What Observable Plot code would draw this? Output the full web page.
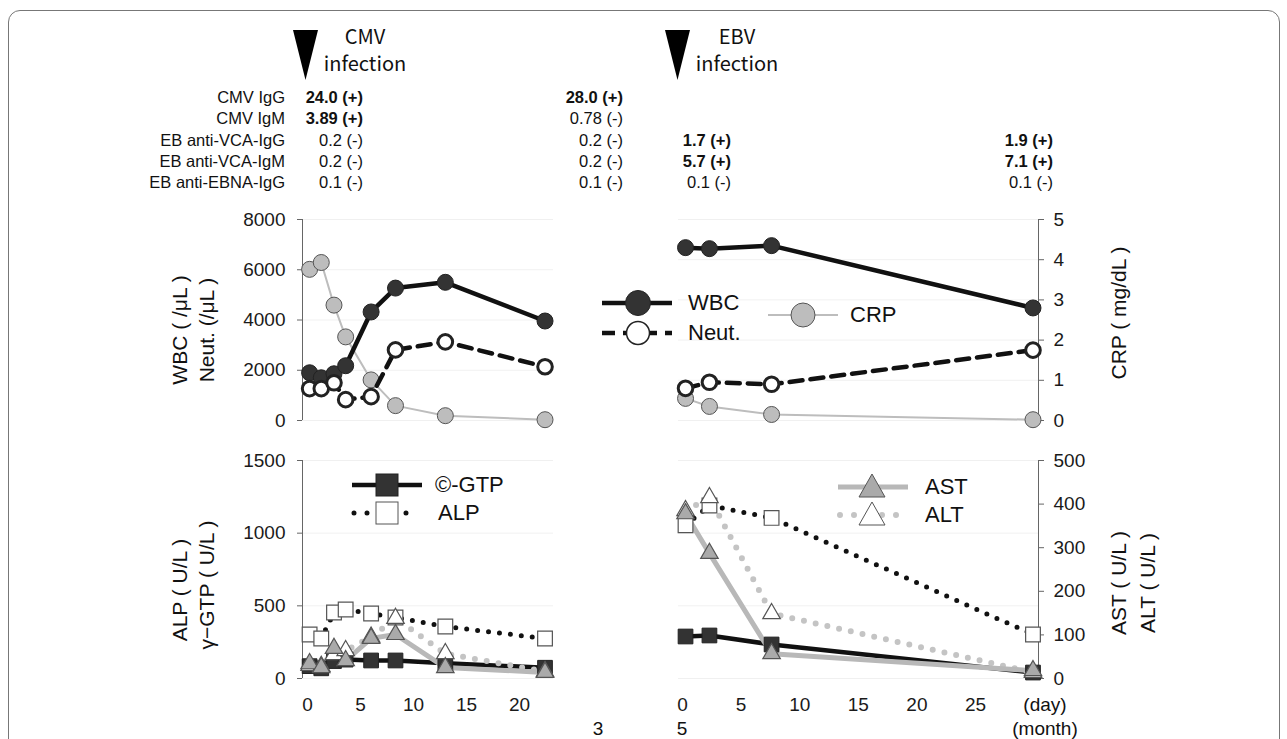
<!DOCTYPE html>
<html><head><meta charset="utf-8">
<script src="https://cdn.jsdelivr.net/npm/d3@7"></script>
<script src="https://cdn.jsdelivr.net/npm/@observablehq/plot@0.6"></script>
<style>
body{margin:0;background:#fff;font-family:"Liberation Sans",Arial,sans-serif;color:#111;}
#root{position:relative;width:1287px;height:739px;overflow:hidden;background:#fff;}
.t{position:absolute;white-space:nowrap;line-height:1;}
</style></head><body><div id="root"></div>
<script>
// ---------- data ----------
const cmvDays = [0.2, 1.3, 2.5, 3.6, 6.0, 8.3, 13.0, 22.4];
const cmvWBC  = [1900, 1700, 1860, 2180, 4320, 5270, 5500, 3960];
const cmvNeut = [1270, 1270, 1500, 830, 950, 2810, 3130, 2140];
const cmvCRP  = [3.76, 3.93, 2.87, 2.08, 1.01, 0.37, 0.12, 0.02];
const cmvGTP  = [85, 70, 120, 130, 124, 124, 105, 74];
const cmvALP  = [303, 275, 454, 475, 447, 420, 358, 275];
const cmvAST  = [34, 25, 69, 41, 92, 101, 25, 14];
const cmvALT  = [30, 28, 55, 64, 95, 138, 57, 16];

const ebvDays = [0.26, 2.3, 7.6, 29.9];
const ebvWBC  = [6880, 6840, 6960, 4480];
const ebvNeut = [1280, 1520, 1440, 2800];
const ebvCRP  = [0.55, 0.35, 0.15, 0.02];
const ebvGTP  = [289, 296, 234, 41];
const ebvALP  = [1055, 1190, 1105, 303];
const ebvAST  = [378, 287, 57, 18];
const ebvALT  = [385, 415, 149, 14];

const wbcTicks = [0, 2000, 4000, 6000, 8000];
const crpTicks = [0, 1, 2, 3, 4, 5];
const liverLeftTicks = [0, 500, 1000, 1500];
const liverRightTicks = [0, 100, 200, 300, 400, 500];
const cmvDayTicks = [0, 5, 10, 15, 20];
const ebvDayTicks = [0, 5, 10, 15, 20, 25];

const seroLabels = ["CMV IgG", "CMV IgM", "EB anti-VCA-IgG", "EB anti-VCA-IgM", "EB anti-EBNA-IgG"];
const sero1 = ["24.0 (+)", "3.89 (+)", "0.2 (-)", "0.2 (-)", "0.1 (-)"];
const sero2 = ["28.0 (+)", "0.78 (-)", "0.2 (-)", "0.2 (-)", "0.1 (-)"];
const sero3 = ["", "", "1.7 (+)", "5.7 (+)", "0.1 (-)"];
const sero4 = ["", "", "1.9 (+)", "7.1 (+)", "0.1 (-)"];

// ---------- scale factors for secondary axes ----------
const CRP_K = 8000 / 5;     // CRP (0-5) onto WBC axis (0-8000)
const LIV_K = 1500 / 500;   // AST/ALT (0-500) onto ALP axis (0-1500)

const cmv = cmvDays.map((d, i) => ({day: d, wbc: cmvWBC[i], neut: cmvNeut[i], crp: cmvCRP[i] * CRP_K,
  gtp: cmvGTP[i], alp: cmvALP[i], ast: cmvAST[i] * LIV_K, alt: cmvALT[i] * LIV_K}));
const ebv = ebvDays.map((d, i) => ({day: d, wbc: ebvWBC[i], neut: ebvNeut[i], crp: ebvCRP[i] * CRP_K,
  gtp: ebvGTP[i], alp: ebvALP[i], ast: ebvAST[i] * LIV_K, alt: ebvALT[i] * LIV_K}));

const root = document.getElementById("root");
const FONT = '"Liberation Sans", Arial, sans-serif';
const xDomL = [-0.47, 23.2];
const xDomR = [-0.34, 30.37];

function place(el, left, top) {
  el.style.position = "absolute"; el.style.left = left + "px"; el.style.top = top + "px";
  root.appendChild(el);
}
const baseStyle = {fontSize: "19px", fontFamily: FONT, color: "#1a1a1a", background: "transparent", overflow: "visible"};

function countMarks(data) {
  return [
    Plot.line(data, {x: "day", y: "crp", stroke: "#bdbdbd", strokeWidth: 2}),
    Plot.dot(data, {x: "day", y: "crp", r: 8, fill: "#bdbdbd", stroke: "#555", strokeWidth: 1}),
    Plot.line(data, {x: "day", y: "wbc", stroke: "#111", strokeWidth: 4.5}),
    Plot.dot(data, {x: "day", y: "wbc", r: 8, fill: "#333", stroke: "#222", strokeWidth: 1}),
    Plot.line(data, {x: "day", y: "neut", stroke: "#111", strokeWidth: 4.5, strokeDasharray: "13,8"}),
    Plot.dot(data, {x: "day", y: "neut", r: 7.3, fill: "#fff", stroke: "#222", strokeWidth: 3})
  ];
}
function liverMarks(data) {
  return [
    Plot.line(data, {x: "day", y: "gtp", stroke: "#111", strokeWidth: 4.5}),
    Plot.line(data, {x: "day", y: "alp", stroke: "#111", strokeWidth: 5, strokeDasharray: "0,11", strokeLinecap: "round"}),
    Plot.line(data, {x: "day", y: "alt", stroke: "#c4c4c4", strokeWidth: 6, strokeDasharray: "0,12", strokeLinecap: "round"}),
    Plot.line(data, {x: "day", y: "ast", stroke: "#b8b8b8", strokeWidth: 5}),
    Plot.dot(data, {x: "day", y: "gtp", symbol: "square", r: 8.3, fill: "#333", stroke: "#222", strokeWidth: 1}),
    Plot.dot(data, {x: "day", y: "alp", symbol: "square", r: 8.3, fill: "#fff", stroke: "#555", strokeWidth: 1.2}),
    Plot.dot(data, {x: "day", y: "alt", symbol: "triangle", r: 6.5, fill: "#fff", stroke: "#555", strokeWidth: 1.2}),
    Plot.dot(data, {x: "day", y: "ast", symbol: "triangle", r: 6.5, fill: "#aaa", stroke: "#555", strokeWidth: 1.2})
  ];
}

// Top-left: CMV, counts
place(Plot.plot({
  width: 323, height: 225, marginLeft: 62, marginRight: 10, marginTop: 14, marginBottom: 10,
  x: {domain: xDomL, axis: null, label: null}, y: {domain: [0, 8000], axis: null, label: null}, style: baseStyle,
  marks: [
    Plot.gridY(wbcTicks, {stroke: "#000", strokeOpacity: 0.06}),
    Plot.ruleX([xDomL[0]], {stroke: "#666"}),
    Plot.axisY(wbcTicks, {anchor: "left", label: null, tickSize: 5, tickPadding: 12, stroke: "#666", tickFormat: d3.format("d")}),
    ...countMarks(cmv)
  ]
}), 240, 205);

// Top-right: EBV, counts with CRP axis
place(Plot.plot({
  width: 418, height: 225, marginLeft: 8, marginRight: 50, marginTop: 14, marginBottom: 10,
  x: {domain: xDomR, axis: null, label: null}, y: {domain: [0, 8000], axis: null, label: null}, style: baseStyle,
  marks: [
    Plot.gridY(crpTicks.map(v => v * CRP_K), {stroke: "#000", strokeOpacity: 0.06}),
    Plot.ruleX([xDomR[1]], {stroke: "#666"}),
    Plot.axisY(crpTicks.map(v => v * CRP_K), {anchor: "right", label: null, tickSize: 5, tickPadding: 10, stroke: "#666", tickFormat: d => d / CRP_K}),
    ...countMarks(ebv)
  ]
}), 670, 205);

// Bottom-left: CMV, liver
place(Plot.plot({
  width: 323, height: 272, marginLeft: 62, marginRight: 10, marginTop: 14, marginBottom: 40,
  x: {domain: xDomL, axis: null, label: null}, y: {domain: [0, 1500], axis: null, label: null}, style: baseStyle,
  marks: [
    Plot.gridY(liverLeftTicks, {stroke: "#000", strokeOpacity: 0.06}),
    Plot.ruleX([xDomL[0]], {stroke: "#666"}),
    Plot.axisY(liverLeftTicks, {anchor: "left", label: null, tickSize: 5, tickPadding: 12, stroke: "#666", tickFormat: d3.format("d")}),
    Plot.axisX(cmvDayTicks, {anchor: "bottom", label: null, tickSize: 0, tickPadding: 19}),
    ...liverMarks(cmv)
  ]
}), 240, 446);

// Bottom-right: EBV, liver with AST/ALT axis
place(Plot.plot({
  width: 418, height: 272, marginLeft: 8, marginRight: 50, marginTop: 14, marginBottom: 40,
  x: {domain: xDomR, axis: null, label: null}, y: {domain: [0, 1500], axis: null, label: null}, style: baseStyle,
  marks: [
    Plot.gridY(liverLeftTicks, {stroke: "#000", strokeOpacity: 0.06}),
    Plot.ruleX([xDomR[1]], {stroke: "#666"}),
    Plot.axisY(liverRightTicks.map(v => v * LIV_K), {anchor: "right", label: null, tickSize: 5, tickPadding: 10, stroke: "#666", tickFormat: d => d / LIV_K}),
    Plot.axisX(ebvDayTicks, {anchor: "bottom", label: null, tickSize: 0, tickPadding: 19}),
    ...liverMarks(ebv)
  ]
}), 670, 446);

// ---------- texts ----------
function text(str, cx, cy, size, opts = {}) {
  const d = document.createElement("div");
  d.className = "t"; d.textContent = str;
  d.style.fontSize = size + "px";
  d.style.fontFamily = opts.font || FONT;
  if (opts.bold) d.style.fontWeight = "bold";
  if (opts.weight) d.style.fontWeight = opts.weight;
  d.style.left = cx + "px"; d.style.top = cy + "px";
  d.style.transform = "translate(-50%,-50%)" + (opts.rotate ? " rotate(-90deg)" : "");
  root.appendChild(d);
}
function rtext(str, rx, cy, size, bold) {
  const d = document.createElement("div");
  d.className = "t"; d.textContent = str;
  d.style.fontSize = size + "px"; d.style.fontFamily = FONT;
  if (bold) d.style.fontWeight = "bold";
  d.style.right = (1287 - rx) + "px"; d.style.top = cy + "px";
  d.style.transform = "translateY(-50%)";
  root.appendChild(d);
}
function ltext(str, lx, cy, size) {
  const d = document.createElement("div");
  d.className = "t"; d.textContent = str;
  d.style.fontSize = size + "px"; d.style.fontFamily = FONT;
  d.style.left = lx + "px"; d.style.top = cy + "px";
  d.style.transform = "translateY(-50%)";
  root.appendChild(d);
}

// frame
const fr = document.createElement("div");
fr.style.cssText = "position:absolute;left:8px;top:10px;width:1270px;height:780px;border:1.5px solid #777;border-radius:12px;";
root.appendChild(fr);

// serology table
const rowY = [97, 118, 140, 161, 182];
seroLabels.forEach((s, i) => rtext(s, 285, rowY[i], 16.5, false));
[[sero1, 363], [sero2, 623], [sero3, 731], [sero4, 1053]].forEach(([col, rx]) =>
  col.forEach((s, i) => { if (s) rtext(s, rx, rowY[i], 16.5, s.includes("(+)")); }));

// headers
const HF = '"Noto Sans CJK JP", "Noto Sans", sans-serif';
text("CMV", 365, 36, 20, {font: HF, weight: 400});
text("infection", 365, 63, 20, {font: HF, weight: 400});
text("EBV", 737, 36, 20, {font: HF, weight: 400});
text("infection", 737, 63, 20, {font: HF, weight: 400});

// axis titles
text("WBC ( /μL )", 179, 330, 21, {rotate: true});
text("Neut. (/μL )", 206, 330, 21, {rotate: true});
text("ALP ( U/L )", 179, 590, 21, {rotate: true});
text("γ−GTP ( U/L )", 206, 585, 21, {rotate: true});
text("CRP ( mg/dL )", 1118, 313, 21, {rotate: true});
text("AST ( U/L )", 1118, 583, 21, {rotate: true});
text("ALT ( U/L )", 1147, 583, 21, {rotate: true});

// time labels
text("(day)", 1045, 704, 19);
text("3", 598, 728, 19);
text("5", 682, 728, 19);
text("(month)", 1045, 728, 19);

// ---------- legends and infection markers overlay ----------
const ov = d3.create("svg").attr("width", 1287).attr("height", 739)
  .style("position", "absolute").style("left", "0px").style("top", "0px").style("overflow", "visible");
// infection arrows
ov.append("path").attr("d", "M293,30 L318,30 L305.5,80 Z").attr("fill", "#000");
ov.append("path").attr("d", "M665,30 L690,30 L677.5,80 Z").attr("fill", "#000");

function legLine(x1, x2, y, stroke, w, dash, cap) {
  const l = ov.append("line").attr("x1", x1).attr("x2", x2).attr("y1", y).attr("y2", y)
    .attr("stroke", stroke).attr("stroke-width", w);
  if (dash) l.attr("stroke-dasharray", dash);
  if (cap) l.attr("stroke-linecap", cap);
}
// counts legend
legLine(602, 672, 303, "#111", 4.5);
ov.append("circle").attr("cx", 638).attr("cy", 303).attr("r", 12.5).attr("fill", "#333").attr("stroke", "#222");
legLine(602, 672, 333, "#111", 4.5, "13,8");
ov.append("circle").attr("cx", 638).attr("cy", 333).attr("r", 11.5).attr("fill", "#fff").attr("stroke", "#222").attr("stroke-width", 1.5);
legLine(768, 838, 315, "#bdbdbd", 2);
ov.append("circle").attr("cx", 803).attr("cy", 315).attr("r", 12).attr("fill", "#bdbdbd").attr("stroke", "#555");
// liver legend (left)
legLine(352, 422, 485, "#111", 4.5);
ov.append("rect").attr("x", 376).attr("y", 474).attr("width", 22).attr("height", 22).attr("fill", "#333").attr("stroke", "#222");
legLine(354, 416, 513, "#111", 5, "0,13", "round");
ov.append("rect").attr("x", 376).attr("y", 502).attr("width", 22).attr("height", 22).attr("fill", "#fff").attr("stroke", "#555");
// liver legend (right)
legLine(838, 908, 487, "#b8b8b8", 5);
ov.append("path").attr("d", "M872,474 L885,497 L859,497 Z").attr("fill", "#aaa").attr("stroke", "#555");
legLine(840, 904, 515, "#c4c4c4", 6, "0,14", "round");
ov.append("path").attr("d", "M872,502 L885,525 L859,525 Z").attr("fill", "#fff").attr("stroke", "#555");
root.appendChild(ov.node());

ltext("WBC", 688, 303, 22);
ltext("Neut.", 688, 333, 22);
ltext("CRP", 850, 315, 22);
ltext("©-GTP", 435, 485, 22);
ltext("ALP", 438, 513, 22);
ltext("AST", 925, 487, 22);
ltext("ALT", 925, 515, 22);
</script></body></html>
